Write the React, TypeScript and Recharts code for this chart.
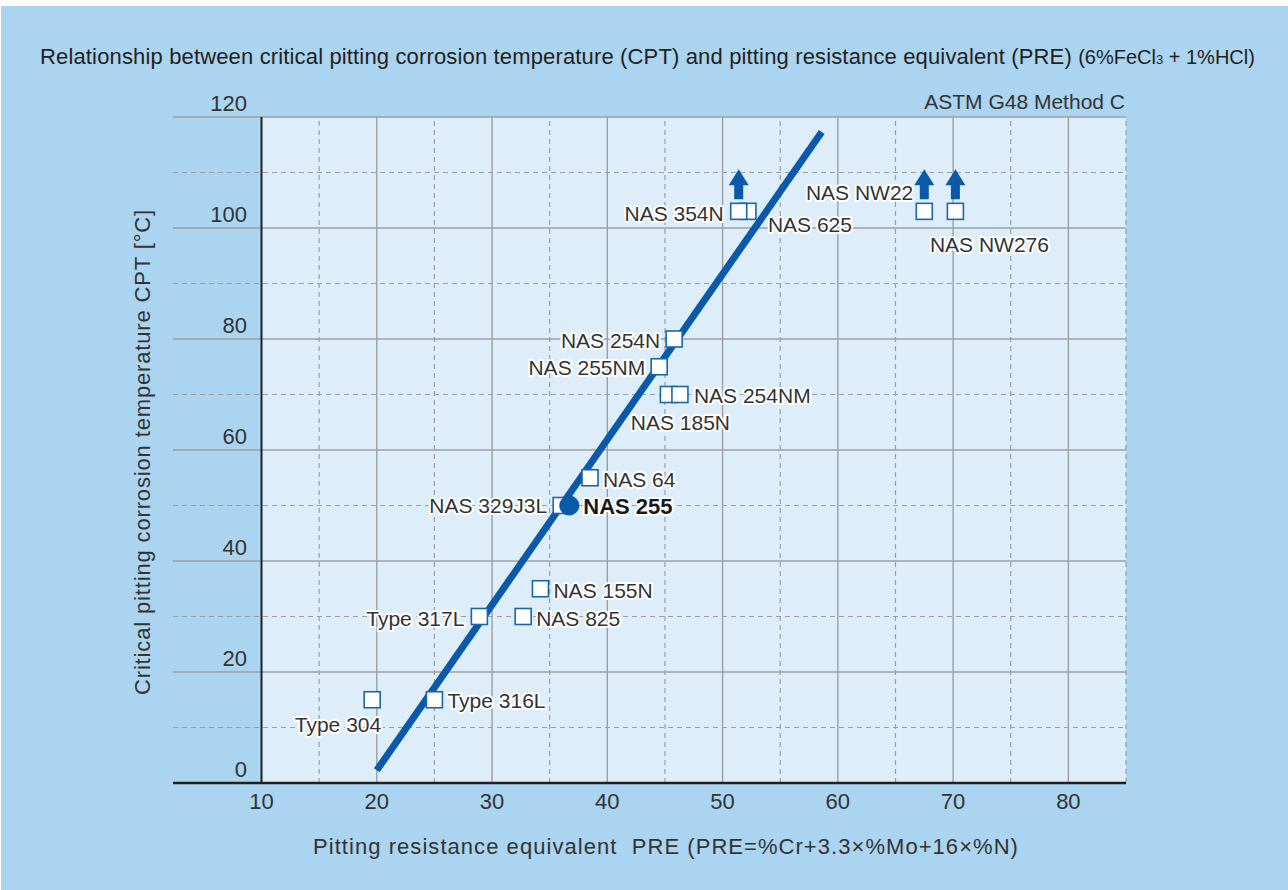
import React from "react";
import {
  ScatterChart,
  Scatter,
  XAxis,
  YAxis,
  ReferenceLine,
  ReferenceArea,
} from "recharts";

// steel grades, pitting resistance equivalent and critical pitting temperature
const grades = [
  "Type 304",
  "Type 316L",
  "Type 317L",
  "NAS 825",
  "NAS 155N",
  "NAS 329J3L",
  "NAS 64",
  "NAS 185N",
  "NAS 254NM",
  "NAS 255NM",
  "NAS 254N",
  "NAS 625",
  "NAS 354N",
  "NAS NW22",
  "NAS NW276",
];
const pre = [19.6, 25.0, 28.9, 32.7, 34.2, 36.0, 38.5, 45.3, 46.3, 44.5, 45.8, 52.2, 51.4, 67.5, 70.2];
const cpt = [15, 15, 30, 30, 35, 50, 55, 70, 70, 75, 80, 103, 103, 103, 103];

// grades whose CPT is above the test limit (drawn with an up arrow)
const aboveLimit = ["NAS 354N", "NAS NW22", "NAS NW276"];

const featuredName = "NAS 255";
const featuredPre = [36.7];
const featuredCpt = [50];

// trend line end points
const trendPre = [20.0, 58.6];
const trendCpt = [2.3, 117.3];

const xTicks = [10, 20, 30, 40, 50, 60, 70, 80];
const xMinor = [15, 25, 35, 45, 55, 65, 75, 85];
const yTicks = [0, 20, 40, 60, 80, 100, 120];
const yMinor = [10, 30, 50, 70, 90, 110];

const BLUE = "#0a5aa9";
const GRID = "#9b9fa3";
const INK = "#231f20";
const FONT = "'Liberation Sans', Arial, sans-serif";

// where each label sits relative to its marker
const labelPlace: Record<string, { dx: number; dy: number; anchor: "start" | "end" | "middle" }> = {
  "Type 304": { dx: 9, dy: 25, anchor: "end" },
  "Type 316L": { dx: 13, dy: 1, anchor: "start" },
  "Type 317L": { dx: -15, dy: 2, anchor: "end" },
  "NAS 825": { dx: 13, dy: 2, anchor: "start" },
  "NAS 155N": { dx: 13, dy: 2, anchor: "start" },
  "NAS 329J3L": { dx: -14, dy: 0, anchor: "end" },
  "NAS 64": { dx: 13, dy: 2, anchor: "start" },
  "NAS 185N": { dx: 12, dy: 28, anchor: "middle" },
  "NAS 254NM": { dx: 14, dy: 1, anchor: "start" },
  "NAS 255NM": { dx: -14, dy: 1, anchor: "end" },
  "NAS 254N": { dx: -14, dy: 1, anchor: "end" },
  "NAS 625": { dx: 20, dy: 13, anchor: "start" },
  "NAS 354N": { dx: -15, dy: 2, anchor: "end" },
  "NAS NW22": { dx: -11, dy: -19, anchor: "end" },
  "NAS NW276": { dx: 34, dy: 33, anchor: "middle" },
};

const points = grades.map((name, i) => ({ name, x: pre[i], y: cpt[i] }));
const arrows = points.filter((p) => aboveLimit.includes(p.name));
const featured = featuredPre.map((x, i) => ({ name: featuredName, x, y: featuredCpt[i] }));
const trend = trendPre.map((x, i) => ({ x, y: trendCpt[i] }));

const haloText = {
  stroke: "#ffffff",
  strokeWidth: 4,
  strokeLinejoin: "round" as const,
  paintOrder: "stroke" as const,
};

const SquareMark = (props: any) => {
  const { cx, cy, payload } = props;
  const p = labelPlace[payload.name] || { dx: 12, dy: 0, anchor: "start" };
  return (
    <g>
      <rect x={cx - 8} y={cy - 8} width={16} height={16} fill="#ffffff" stroke="#1d63ad" strokeWidth={1.6} />
      <text
        x={cx + p.dx}
        y={cy + p.dy}
        textAnchor={p.anchor}
        dominantBaseline="central"
        fontSize={21}
        fontFamily={FONT}
        fill="#333333"
        {...haloText}
      >
        {payload.name}
      </text>
    </g>
  );
};

const CircleMark = (props: any) => {
  const { cx, cy, payload } = props;
  return (
    <g>
      <circle cx={cx} cy={cy} r={10} fill={BLUE} />
      <text
        x={cx + 14}
        y={cy + 1}
        dominantBaseline="central"
        fontSize={22}
        fontWeight="bold"
        fontFamily={FONT}
        fill="#1a1a1a"
        {...haloText}
      >
        {payload.name}
      </text>
    </g>
  );
};

const ArrowMark = (props: any) => {
  const { cx, cy } = props;
  const d = `M${cx} ${cy - 42} L${cx + 10} ${cy - 26} L${cx + 4.5} ${cy - 26} L${cx + 4.5} ${cy - 12} L${cx - 4.5} ${cy - 12} L${cx - 4.5} ${cy - 26} L${cx - 10} ${cy - 26} Z`;
  return <path d={d} fill={BLUE} />;
};

const YTick = (props: any) => {
  const { y, payload } = props;
  return (
    <text x={247} y={y - 14} textAnchor="end" dominantBaseline="central" fontSize={22} fontFamily={FONT} fill="#333333">
      {payload.value}
    </text>
  );
};

export default function App() {
  return (
    <div style={{ position: "absolute", left: 0, top: 0, width: 1288, height: 890, background: "#ffffff", fontFamily: FONT }}>
      <div style={{ position: "absolute", left: 1, top: 6, right: 0, bottom: 0, background: "#aad4f0" }} />

      <div style={{ position: "absolute", left: 40, top: 44, whiteSpace: "nowrap", fontSize: 22, letterSpacing: 0.15, lineHeight: "26px", color: INK }}>
        Relationship between critical pitting corrosion temperature (CPT) and pitting resistance equivalent (PRE){" "}
        <span style={{ fontSize: 20, letterSpacing: 0 }}>
          (6%FeCl<span style={{ fontSize: 13 }}>3</span> + 1%HCl)
        </span>
      </div>

      <div style={{ position: "absolute", right: 1288 - 1125, top: 89, whiteSpace: "nowrap", fontSize: 21, lineHeight: "26px", color: "#333333" }}>
        ASTM G48 Method C
      </div>

      <div style={{ position: "absolute", left: 0, top: 0 }}>
        <ScatterChart width={1288} height={890} margin={{ top: 117, right: 162, bottom: 67, left: 85 }}>
          <ReferenceArea x1={10} x2={85} y1={0} y2={120} fill="#ddeefa" fillOpacity={1} stroke="none" />
          {yMinor.map((v) => (
            <ReferenceLine key={"ym" + v} y={v} stroke={GRID} strokeWidth={1.2} strokeDasharray="5 4" />
          ))}
          {xMinor.map((v) => (
            <ReferenceLine key={"xm" + v} x={v} stroke={GRID} strokeWidth={1.2} strokeDasharray="5 4" />
          ))}
          {yTicks.filter((v) => v > 0).map((v) => (
            <ReferenceLine key={"y" + v} y={v} stroke={GRID} strokeWidth={1.4} />
          ))}
          {xTicks.filter((v) => v > 10).map((v) => (
            <ReferenceLine key={"x" + v} x={v} stroke={GRID} strokeWidth={1.4} />
          ))}
          <ReferenceLine x={10} stroke={INK} strokeWidth={2} />
          <XAxis
            type="number"
            dataKey="x"
            domain={[2.32, 85]}
            ticks={xTicks}
            allowDataOverflow
            height={40}
            axisLine={{ stroke: INK, strokeWidth: 2.4 }}
            tickLine={false}
            tickMargin={4}
            tick={{ fontSize: 22, fill: "#333333", fontFamily: FONT }}
          />
          <YAxis
            type="number"
            dataKey="y"
            domain={[0, 120]}
            ticks={yTicks}
            width={88}
            axisLine={false}
            tickLine={false}
            tick={<YTick />}
          />
          <Scatter
            data={trend}
            line={{ stroke: BLUE, strokeWidth: 7 }}
            shape={() => <g />}
            isAnimationActive={false}
          />
          <Scatter data={arrows} shape={<ArrowMark />} isAnimationActive={false} />
          <Scatter data={points} shape={<SquareMark />} isAnimationActive={false} />
          <Scatter data={featured} shape={<CircleMark />} isAnimationActive={false} />
        </ScatterChart>
      </div>

      <div
        style={{
          position: "absolute",
          left: 143,
          top: 452,
          transform: "translate(-50%, -50%) rotate(-90deg)",
          whiteSpace: "nowrap",
          fontSize: 22,
          letterSpacing: 0.85,
          lineHeight: "26px",
          color: "#333333",
        }}
      >
        Critical pitting corrosion temperature CPT [°C]
      </div>

      <div
        style={{
          position: "absolute",
          left: 666,
          top: 847,
          transform: "translate(-50%, -50%)",
          whiteSpace: "nowrap",
          fontSize: 22,
          letterSpacing: 1.05,
          lineHeight: "26px",
          color: "#333333",
        }}
      >
        Pitting resistance equivalent&nbsp; PRE (PRE=%Cr+3.3×%Mo+16×%N)
      </div>
    </div>
  );
}
